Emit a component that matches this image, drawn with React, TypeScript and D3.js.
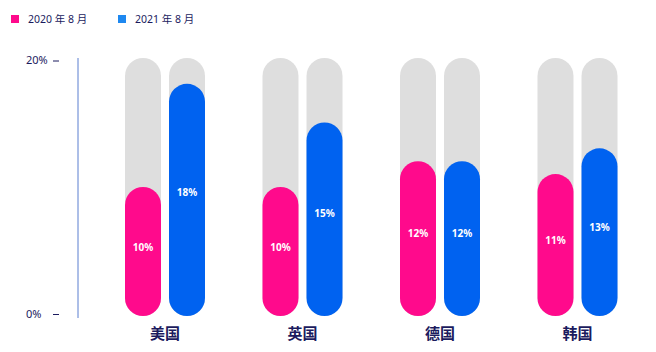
import React from 'react';
import * as d3 from 'd3';

const categories = ['美国', '英国', '德国', '韩国'];
const series = ['2020 年 8 月', '2021 年 8 月'];
const values2020 = [10, 10, 12, 11];
const values2021 = [18, 15, 12, 13];
const yTicks = [0, 20];

const colors = ['#ff0a8c', '#0062f0'];
const legendColors = ['#ff0a8c', '#1e88f0'];
const navy = '#1b1b5e';
const font = '"Noto Sans", "Noto Sans CJK SC", sans-serif';

export default function App() {
    const width = 656;
    const height = 352;

    const y = d3.scaleLinear().domain([0, 20]).range([316, 58]);

    const x0 = d3.scaleBand()
        .domain(categories)
        .range([96.25, 646.25])
        .padding(0);

    const x1 = d3.scaleBand()
        .domain(series)
        .range([0, 80])
        .paddingInner(0.182)
        .paddingOuter(0);

    const bw = x1.bandwidth();
    const r = bw / 2;
    const data = [values2020, values2021];

    // tick label position nudges to match the reference
    const tickY = (t: number) => (t === 0 ? y(t) - 2 : y(t) + 2.5);

    return (
        <svg width={width} height={height} style={{ position: 'absolute', left: 0, top: 0, fontFamily: font }}>
            {/* legend */}
            {series.map((s, i) => (
                <g key={s} transform={`translate(${i === 0 ? 11 : 118}, 15)`}>
                    <rect width={8} height={8} fill={legendColors[i]} />
                    <text x={17} y={8} fontSize={10.5} fill={navy}>{s}</text>
                </g>
            ))}

            {/* y axis */}
            <line x1={78} x2={78} y1={y(20)} y2={y(0) + 2} stroke="#5b7fd0" strokeWidth={1} />
            {yTicks.map((t) => (
                <g key={t}>
                    <text x={26} y={tickY(t)} dy="0.35em" fontSize={11} fill={navy}>{t}%</text>
                    <line x1={53} x2={59} y1={tickY(t) + 0.5} y2={tickY(t) + 0.5} stroke={navy} strokeWidth={1} />
                </g>
            ))}

            {categories.map((c, ci) => {
                const cx = x0(c)! + x0.bandwidth() / 2 - 40;
                return (
                    <g key={c} transform={`translate(${cx}, 0)`}>
                        {series.map((s, si) => {
                            const bx = x1(s)!;
                            const v = data[si][ci];
                            const top = y(v);
                            const h = y(0) - top;
                            return (
                                <g key={s}>
                                    <rect x={bx} y={y(20)} width={bw} height={y(0) - y(20)} rx={r} ry={r} fill="#dedede" />
                                    <rect x={bx} y={top} width={bw} height={h} rx={r} ry={r} fill={colors[si]} />
                                    <text
                                        x={bx + bw / 2}
                                        y={top + h * 0.47}
                                        dy="0.35em"
                                        textAnchor="middle"
                                        fontSize={10}
                                        fontWeight="bold"
                                        fill="#ffffff"
                                    >
                                        {v}%
                                    </text>
                                </g>
                            );
                        })}
                        <text x={40} y={339} textAnchor="middle" fontSize={15} fontWeight="bold" fill={navy}>{c}</text>
                    </g>
                );
            })}
        </svg>
    );
}
